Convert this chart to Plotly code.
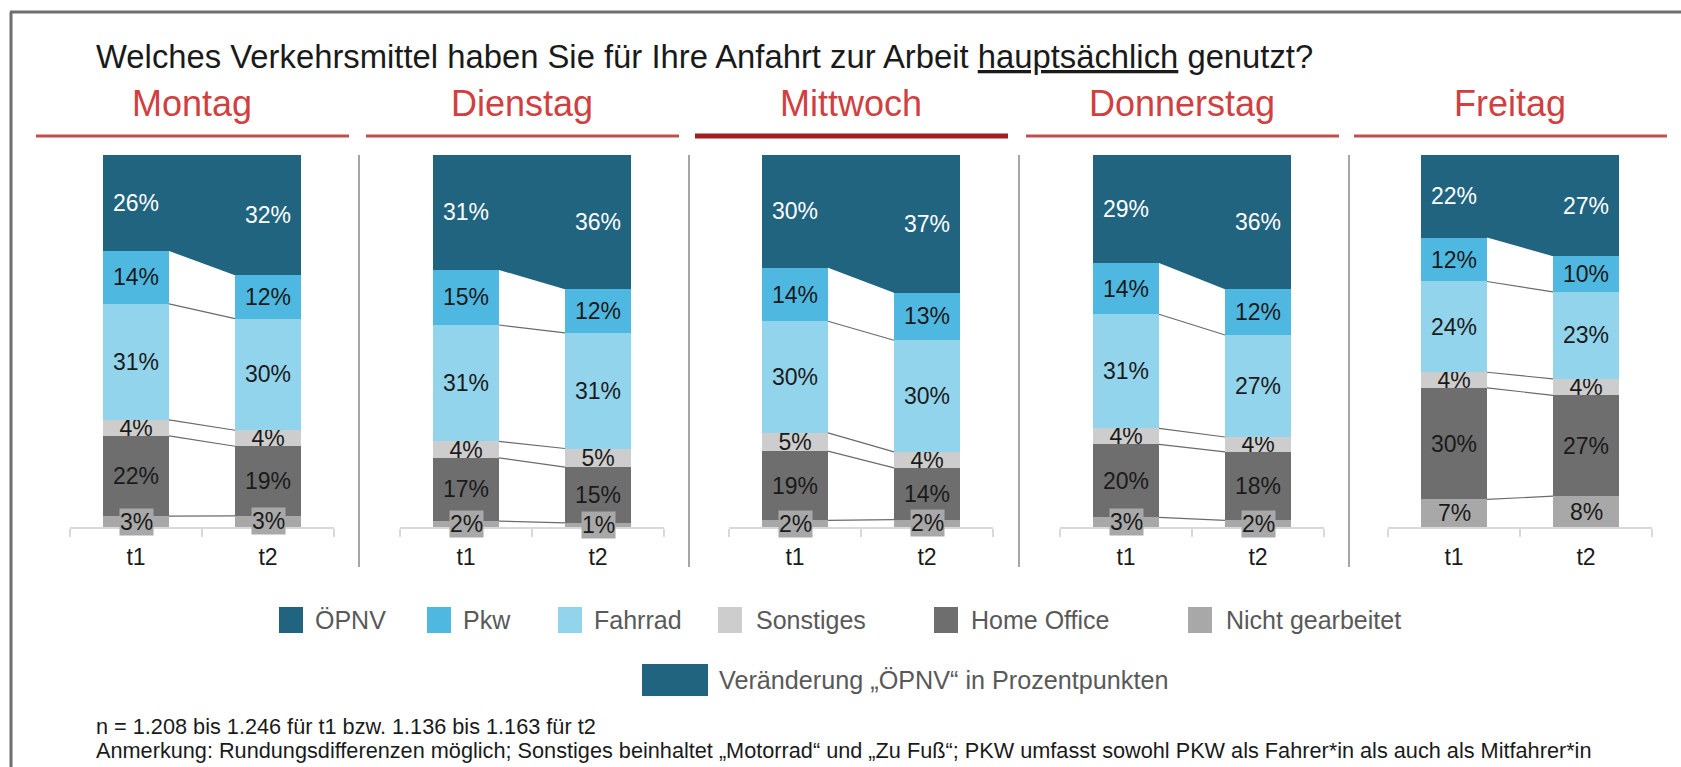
import plotly.graph_objects as go

W, H = 1681, 767

# ---------------- data (in %) ----------------
days = ["Montag", "Dienstag", "Mittwoch", "Donnerstag", "Freitag"]
periods = ["t1", "t2"]

# each inner list: [t1, t2]
oepnv = [[25.8, 32.3], [30.9, 36.1], [30.3, 37.0], [29.0, 36.1], [22.2, 27.2]]
pkw = [[14.2, 11.7], [14.8, 11.7], [14.4, 12.8], [13.8, 12.3], [11.8, 9.6]]
fahrrad = [[31.2, 30.0], [31.3, 31.1], [30.0, 30.0], [30.7, 27.4], [24.4, 23.4]]
sonstiges = [[4.3, 4.3], [4.4, 5.0], [4.9, 4.3], [4.3, 4.0], [4.2, 4.4]]
home_office = [[21.6, 18.7], [17.0, 15.0], [18.6, 13.9], [19.6, 18.4], [30.0, 27.1]]
nicht_gearbeitet = [[2.9, 3.0], [1.6, 1.1], [1.8, 2.0], [2.6, 1.8], [7.4, 8.3]]

series_names = ["Nicht gearbeitet", "Home Office", "Sonstiges", "Fahrrad", "Pkw", "ÖPNV"]  # bottom -> top
series_values = [nicht_gearbeitet, home_office, sonstiges, fahrrad, pkw, oepnv]

legend_order = ["ÖPNV", "Pkw", "Fahrrad", "Sonstiges", "Home Office", "Nicht gearbeitet"]

title_text = ("Welches Verkehrsmittel haben Sie für Ihre Anfahrt zur Arbeit "
              "<u>hauptsächlich</u> genutzt?")
change_label = "Veränderung „ÖPNV“ in Prozentpunkten"
note_lines = [
    "n = 1.208 bis 1.246 für t1 bzw. 1.136 bis 1.163 für t2",
    "Anmerkung: Rundungsdifferenzen möglich; Sonstiges beinhaltet „Motorrad“ und „Zu Fuß“; "
    "PKW umfasst sowohl PKW als Fahrer*in als auch als Mitfahrer*in",
]

# ---------------- styles ----------------
FONT = "Liberation Sans, Arial, sans-serif"
COLORS = {
    "ÖPNV": "#21647F",
    "Pkw": "#4EB8E0",
    "Fahrrad": "#92D4EC",
    "Sonstiges": "#CDCDCD",
    "Home Office": "#6E6E6E",
    "Nicht gearbeitet": "#A8A8A8",
}
TEXT_COL = {
    "ÖPNV": "#FFFFFF",
    "Pkw": "#1A1A1A",
    "Fahrrad": "#1A1A1A",
    "Sonstiges": "#1A1A1A",
    "Home Office": "#1A1A1A",
    "Nicht gearbeitet": "#1A1A1A",
}
LBL = 23
PX_L = [70, 400, 729, 1060, 1388]   # left pixel edge of each panel's x axis
PW = 264                            # panel axis width in px
BAR_W = 0.5
Y_TOP, Y_BOT = 155, 527             # pixel rows of 100% and 0%
LEG_SWATCH_X = [279, 427, 558, 718, 934, 1188]
LEG_TEXT_X = [313, 461, 592, 754, 969, 1224]


def xp(px):
    return px / W


def yp(py):
    return 1 - py / H


fig = go.Figure()
annotations = []
shapes = []

for d, day in enumerate(days):
    ax = "x" if d == 0 else f"x{d + 1}"
    cum = [0.0, 0.0]
    bounds = []  # cumulative boundaries after each series
    for name, vals in zip(series_names, series_values):
        v = vals[d]
        show_txt = name != "Nicht gearbeitet"
        fig.add_trace(go.Bar(
            x=[0, 1], y=v, width=BAR_W, xaxis=ax, yaxis="y",
            marker=dict(color=COLORS[name], line=dict(width=0)),
            texttemplate="%{y:.0f}%" if show_txt else None,
            textposition="inside" if show_txt else "none",
            insidetextanchor="middle", textangle=0,
            textfont=dict(family=FONT, size=LBL, color=TEXT_COL[name]),
            hoverinfo="skip", name=name, showlegend=False,
        ))
        if name == "Nicht gearbeitet":
            for i in range(2):
                annotations.append(dict(
                    x=i, y=v[i] / 2, xref=ax, yref="y", showarrow=False,
                    text=f"{v[i]:.0f}%", font=dict(family=FONT, size=LBL, color=TEXT_COL[name]),
                    bgcolor=COLORS[name], borderpad=0, xanchor="center", yanchor="middle",
                ))
        cum = [cum[0] + v[0], cum[1] + v[1]]
        bounds.append(list(cum))

    # ÖPNV change band between the two bars
    top = bounds[-1]
    base = bounds[-2]
    fig.add_trace(go.Scatter(
        x=[0.25, 0.75, 0.75, 0.25, 0.25],
        y=[top[0], top[1], base[1], base[0], top[0]],
        mode="lines", fill="toself", fillcolor=COLORS["ÖPNV"],
        line=dict(width=0, color=COLORS["ÖPNV"]),
        xaxis=ax, yaxis="y", hoverinfo="skip", showlegend=False,
    ))
    # connector lines between segment boundaries
    for b in bounds[:4]:
        fig.add_trace(go.Scatter(
            x=[0.25, 0.75], y=b, mode="lines",
            line=dict(color="#6B6B6B", width=1.2),
            xaxis=ax, yaxis="y", hoverinfo="skip", showlegend=False,
        ))

    axis = dict(
        domain=[xp(PX_L[d]), xp(PX_L[d] + PW)], range=[-0.5, 1.5], anchor="y",
        tickmode="array", tickvals=[0, 1], ticktext=periods, ticks="",
        showline=True, linecolor="#D9D9D9", linewidth=2,
        showgrid=False, zeroline=False, fixedrange=True,
        minor=dict(tickmode="array", tickvals=[-0.5, 0.5, 1.5], ticks="outside",
                   ticklen=8, tickwidth=2, tickcolor="#D9D9D9", showgrid=False),
        tickfont=dict(family=FONT, size=LBL, color="#1A1A1A"),
        ticklabelstandoff=8,
    )
    fig.update_layout(**{("xaxis" if d == 0 else f"xaxis{d + 1}"): axis})

    # header
    cx = PX_L[d] + PW / 2 - 10
    is_mid = day == "Mittwoch"
    shapes.append(dict(type="line", xref="paper", yref="paper",
                       x0=xp(cx - 156), x1=xp(cx + 157), y0=yp(136), y1=yp(136),
                       line=dict(color="#A31F22" if is_mid else "#C0504D", width=5 if is_mid else 3)))
    annotations.append(dict(
        x=xp(cx), y=yp(103), xref="paper", yref="paper", showarrow=False,
        text=day, font=dict(family=FONT, size=36, color="#D13F40"),
        xanchor="center", yanchor="middle",
    ))

# panel separators
for sx in [359, 689, 1019, 1349]:
    shapes.append(dict(type="line", xref="paper", yref="paper",
                       x0=xp(sx), x1=xp(sx), y0=yp(155), y1=yp(567),
                       line=dict(color="#A6A6A6", width=2)))

# outer frame (left and top edges visible)
shapes.append(dict(type="line", xref="paper", yref="paper",
                   x0=xp(11), x1=xp(11), y0=yp(12), y1=0,
                   line=dict(color="#6E6E6E", width=3)))
shapes.append(dict(type="line", xref="paper", yref="paper",
                   x0=xp(10), x1=1, y0=yp(12), y1=yp(12),
                   line=dict(color="#6E6E6E", width=3)))

# legend row 1
for name, lx, tx in zip(legend_order, LEG_SWATCH_X, LEG_TEXT_X):
    shapes.append(dict(type="rect", xref="paper", yref="paper",
                       x0=xp(lx), x1=xp(lx + 24), y0=yp(607), y1=yp(633),
                       fillcolor=COLORS[name], line=dict(width=0)))
    annotations.append(dict(
        x=xp(tx), y=yp(620), xref="paper", yref="paper", showarrow=False,
        text=name, font=dict(family=FONT, size=25, color="#595959"),
        xanchor="left", yanchor="middle",
    ))
# legend row 2
shapes.append(dict(type="rect", xref="paper", yref="paper",
                   x0=xp(642), x1=xp(708), y0=yp(664), y1=yp(696),
                   fillcolor=COLORS["ÖPNV"], line=dict(width=0)))
annotations.append(dict(
    x=xp(717), y=yp(680), xref="paper", yref="paper", showarrow=False,
    text=change_label, font=dict(family=FONT, size=25.2, color="#595959"),
    xanchor="left", yanchor="middle",
))

# title
annotations.append(dict(
    x=xp(94), y=yp(56), xref="paper", yref="paper", showarrow=False,
    text=title_text, font=dict(family=FONT, size=32.8, color="#1A1A1A"),
    xanchor="left", yanchor="middle",
))

# footnotes
for i, line in enumerate(note_lines):
    annotations.append(dict(
        x=xp(94), y=yp(726 + 24 * i), xref="paper", yref="paper", showarrow=False,
        text=line, font=dict(family=FONT, size=21.7, color="#1A1A1A"),
        xanchor="left", yanchor="middle",
    ))

fig.update_layout(
    width=W, height=H,
    margin=dict(l=0, r=0, t=0, b=0),
    paper_bgcolor="white", plot_bgcolor="rgba(0,0,0,0)",
    barmode="stack", showlegend=False,
    uniformtext=dict(minsize=LBL, mode="show"),
    font=dict(family=FONT),
    yaxis=dict(domain=[yp(Y_BOT), yp(Y_TOP)], range=[0, 100], visible=False, fixedrange=True),
    shapes=shapes, annotations=annotations,
)

fig.write_html("out.html", config={"displayModeBar": False},
               post_script="document.body.style.margin='0';document.body.style.overflow='hidden';")
